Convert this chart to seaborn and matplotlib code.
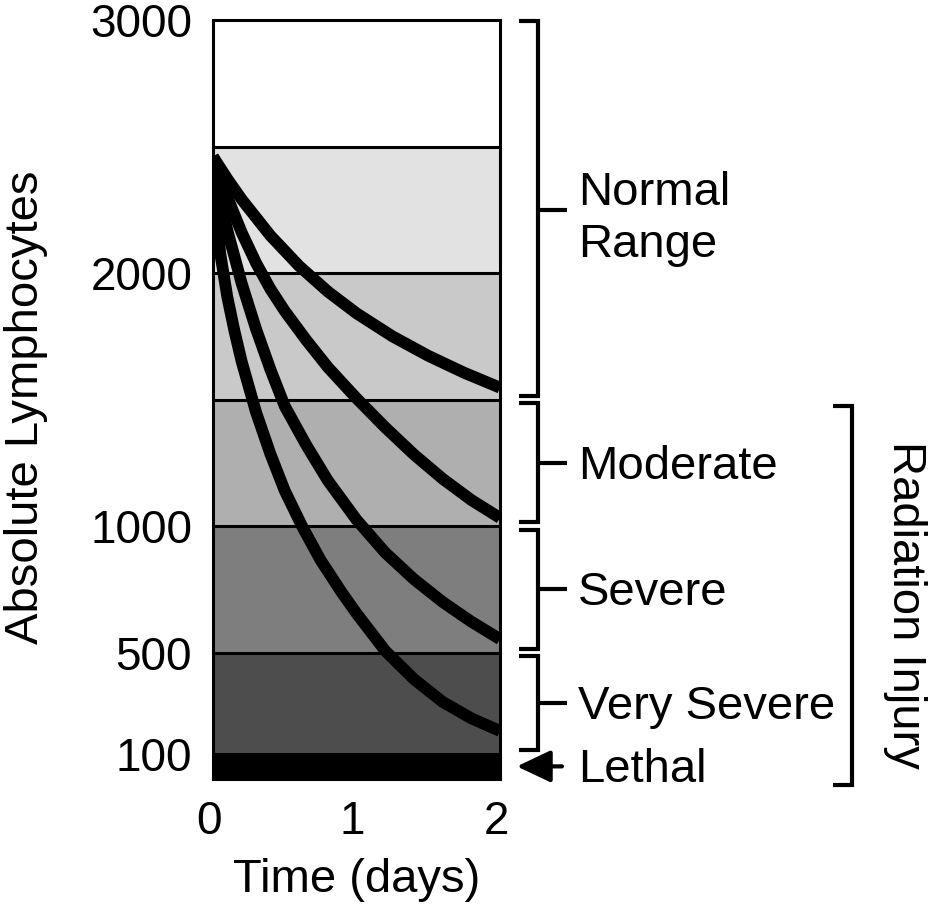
import numpy as np
import pandas as pd
import matplotlib
matplotlib.use("Agg")
import matplotlib.pyplot as plt
import matplotlib.transforms as mtransforms
import seaborn as sns

# ---------------- data ----------------
band_edges = [0, 100, 500, 1000, 1500, 2000, 2500, 3000]
y_ticks = [100, 500, 1000, 2000, 3000]
x_ticks = [0, 1, 2]

days_c1 = [0, 0.1, 0.2, 0.4, 0.6, 0.8, 1.0, 1.25, 1.5, 1.75, 2.0]
lymph_c1 = [2460, 2372, 2291, 2148, 2028, 1927, 1841, 1750, 1673, 1606, 1547]

days_c2 = [0, 0.1, 0.2, 0.3, 0.4, 0.5, 0.65, 0.8, 1.0, 1.2, 1.4, 1.6, 1.8, 2.0]
lymph_c2 = [2460, 2300, 2160, 2040, 1937, 1850, 1735, 1628, 1505, 1390, 1283, 1187, 1103, 1032]

days_c3 = [0, 0.05, 0.1, 0.2, 0.3, 0.4, 0.5, 0.65, 0.8, 1.0, 1.2, 1.4, 1.6, 1.8, 2.0]
lymph_c3 = [2465, 2299, 2169, 1959, 1779, 1619, 1474, 1320, 1180, 1025, 895, 790, 700, 622, 553]

days_c4 = [0, 0.02, 0.05, 0.1, 0.15, 0.2, 0.3, 0.4, 0.5, 0.62, 0.75, 0.9, 1.0,
           1.2, 1.4, 1.6, 1.8, 2.0]
lymph_c4 = [2460, 2270, 2080, 1905, 1770, 1650, 1450, 1285, 1140, 1000, 865, 735, 655,
            507, 395, 305, 240, 190]

severity_labels = ["Normal\nRange", "Moderate", "Severe", "Very Severe"]
severity_upper = [3000, 1500, 1000, 500]
severity_lower = [1500, 1000, 500, 100]
lethal_label = "Lethal"
lethal_range = [0, 100]
injury_label = "Radiation Injury"
injury_range = [0, 1500]

# ---------------- style ----------------
band_colors = ['#000000', '#4d4d4d', '#7e7e7e', '#afafaf', '#c9c9c9', '#e2e2e2', '#ffffff']
FS = 34

sns.set_theme(style="white")
plt.rcParams['font.family'] = ['Liberation Sans', 'DejaVu Sans']

fig = plt.figure(figsize=(9.37, 9.07), dpi=100)
ax = fig.add_axes([0.2273, 0.1411, 0.3063, 0.8368])

for lo, hi, c in zip(band_edges[:-1], band_edges[1:], band_colors):
    ax.axhspan(lo, hi, color=c, lw=0, zorder=0)
for e in band_edges[1:-1]:
    ax.axhline(e, color='black', lw=2.2, zorder=1)

df = pd.concat([
    pd.DataFrame({'days': d, 'lymph': v, 'curve': n})
    for n, d, v in [('c1', days_c1, lymph_c1), ('c2', days_c2, lymph_c2),
                    ('c3', days_c3, lymph_c3), ('c4', days_c4, lymph_c4)]
], ignore_index=True)

n_before = len(ax.get_lines())
sns.lineplot(data=df, x='days', y='lymph', units='curve', estimator=None,
             sort=False, color='black', linewidth=8.5, legend=False, ax=ax, zorder=3)
for ln in ax.get_lines()[n_before:]:
    ln.set_solid_capstyle('butt')
    ln.set_solid_joinstyle('round')

for s in ax.spines.values():
    s.set_color('black')
    s.set_linewidth(2.2)
    s.set_visible(True)
    s.set_zorder(4)

ax.set_xlim(0, 2)
ax.set_ylim(0, 3000)
ax.set_xticks(x_ticks)
ax.set_xticklabels([str(t) for t in x_ticks])
ax.set_yticks(y_ticks)
ax.set_yticklabels([str(t) for t in y_ticks])
ax.tick_params(length=0, pad=15, labelsize=33, colors='black')
shift_left = mtransforms.ScaledTranslation(-4 / 100, 0, fig.dpi_scale_trans)
for lbl in ax.get_xticklabels():
    lbl.set_transform(lbl.get_transform() + shift_left)
ax.set_xlabel('Time (days)', fontsize=FS, labelpad=10, color='black')
ax.set_ylabel('Absolute Lymphocytes', fontsize=FS, color='black', va='center')
ax.yaxis.set_label_coords(-0.652, 0.49)

trans = mtransforms.blended_transform_factory(ax.transAxes, ax.transData)
gap = 15
for lab, hi, lo in zip(severity_labels, severity_upper, severity_lower):
    top = hi - gap if hi < 3000 else hi - 4
    bot = lo + gap
    ax.plot([1.066, 1.132, 1.132, 1.066], [top, top, bot, bot], transform=trans,
            clip_on=False, color='black', lw=3, solid_joinstyle='miter', solid_capstyle='butt')
    mid = (hi + lo) / 2
    ax.plot([1.132, 1.233], [mid, mid], transform=trans, clip_on=False,
            color='black', lw=3, solid_capstyle='butt')
    dy = -9 if '\n' in lab else -4
    ttrans = trans + mtransforms.ScaledTranslation(0, dy / 100, fig.dpi_scale_trans)
    ax.text(1.272, mid, lab, transform=ttrans, fontsize=FS, va='center', ha='left',
            linespacing=1.22, color='black')

lmid = sum(lethal_range) / 2
ax.annotate("", xy=(1.059, lmid), xytext=(1.216, lmid), xycoords=trans, textcoords=trans,
            arrowprops=dict(arrowstyle="-|>,head_length=0.8,head_width=0.38", lw=3,
                            color='black', mutation_scale=26, shrinkA=0, shrinkB=0),
            annotation_clip=False)
ltrans = trans + mtransforms.ScaledTranslation(0, -4 / 100, fig.dpi_scale_trans)
ax.text(1.272, lmid, lethal_label, transform=ltrans, fontsize=FS, va='center', ha='left',
        color='black')

itop = injury_range[1] - 25
ibot = injury_range[0] - 22
ax.plot([2.160, 2.226, 2.226, 2.160], [itop, itop, ibot, ibot], transform=trans,
        clip_on=False, color='black', lw=3, solid_joinstyle='miter', solid_capstyle='butt')
ax.text(2.411, 690, injury_label, transform=trans, fontsize=FS, rotation=-90,
        va='center', ha='center', color='black')

fig.savefig('out.png', dpi=100)
